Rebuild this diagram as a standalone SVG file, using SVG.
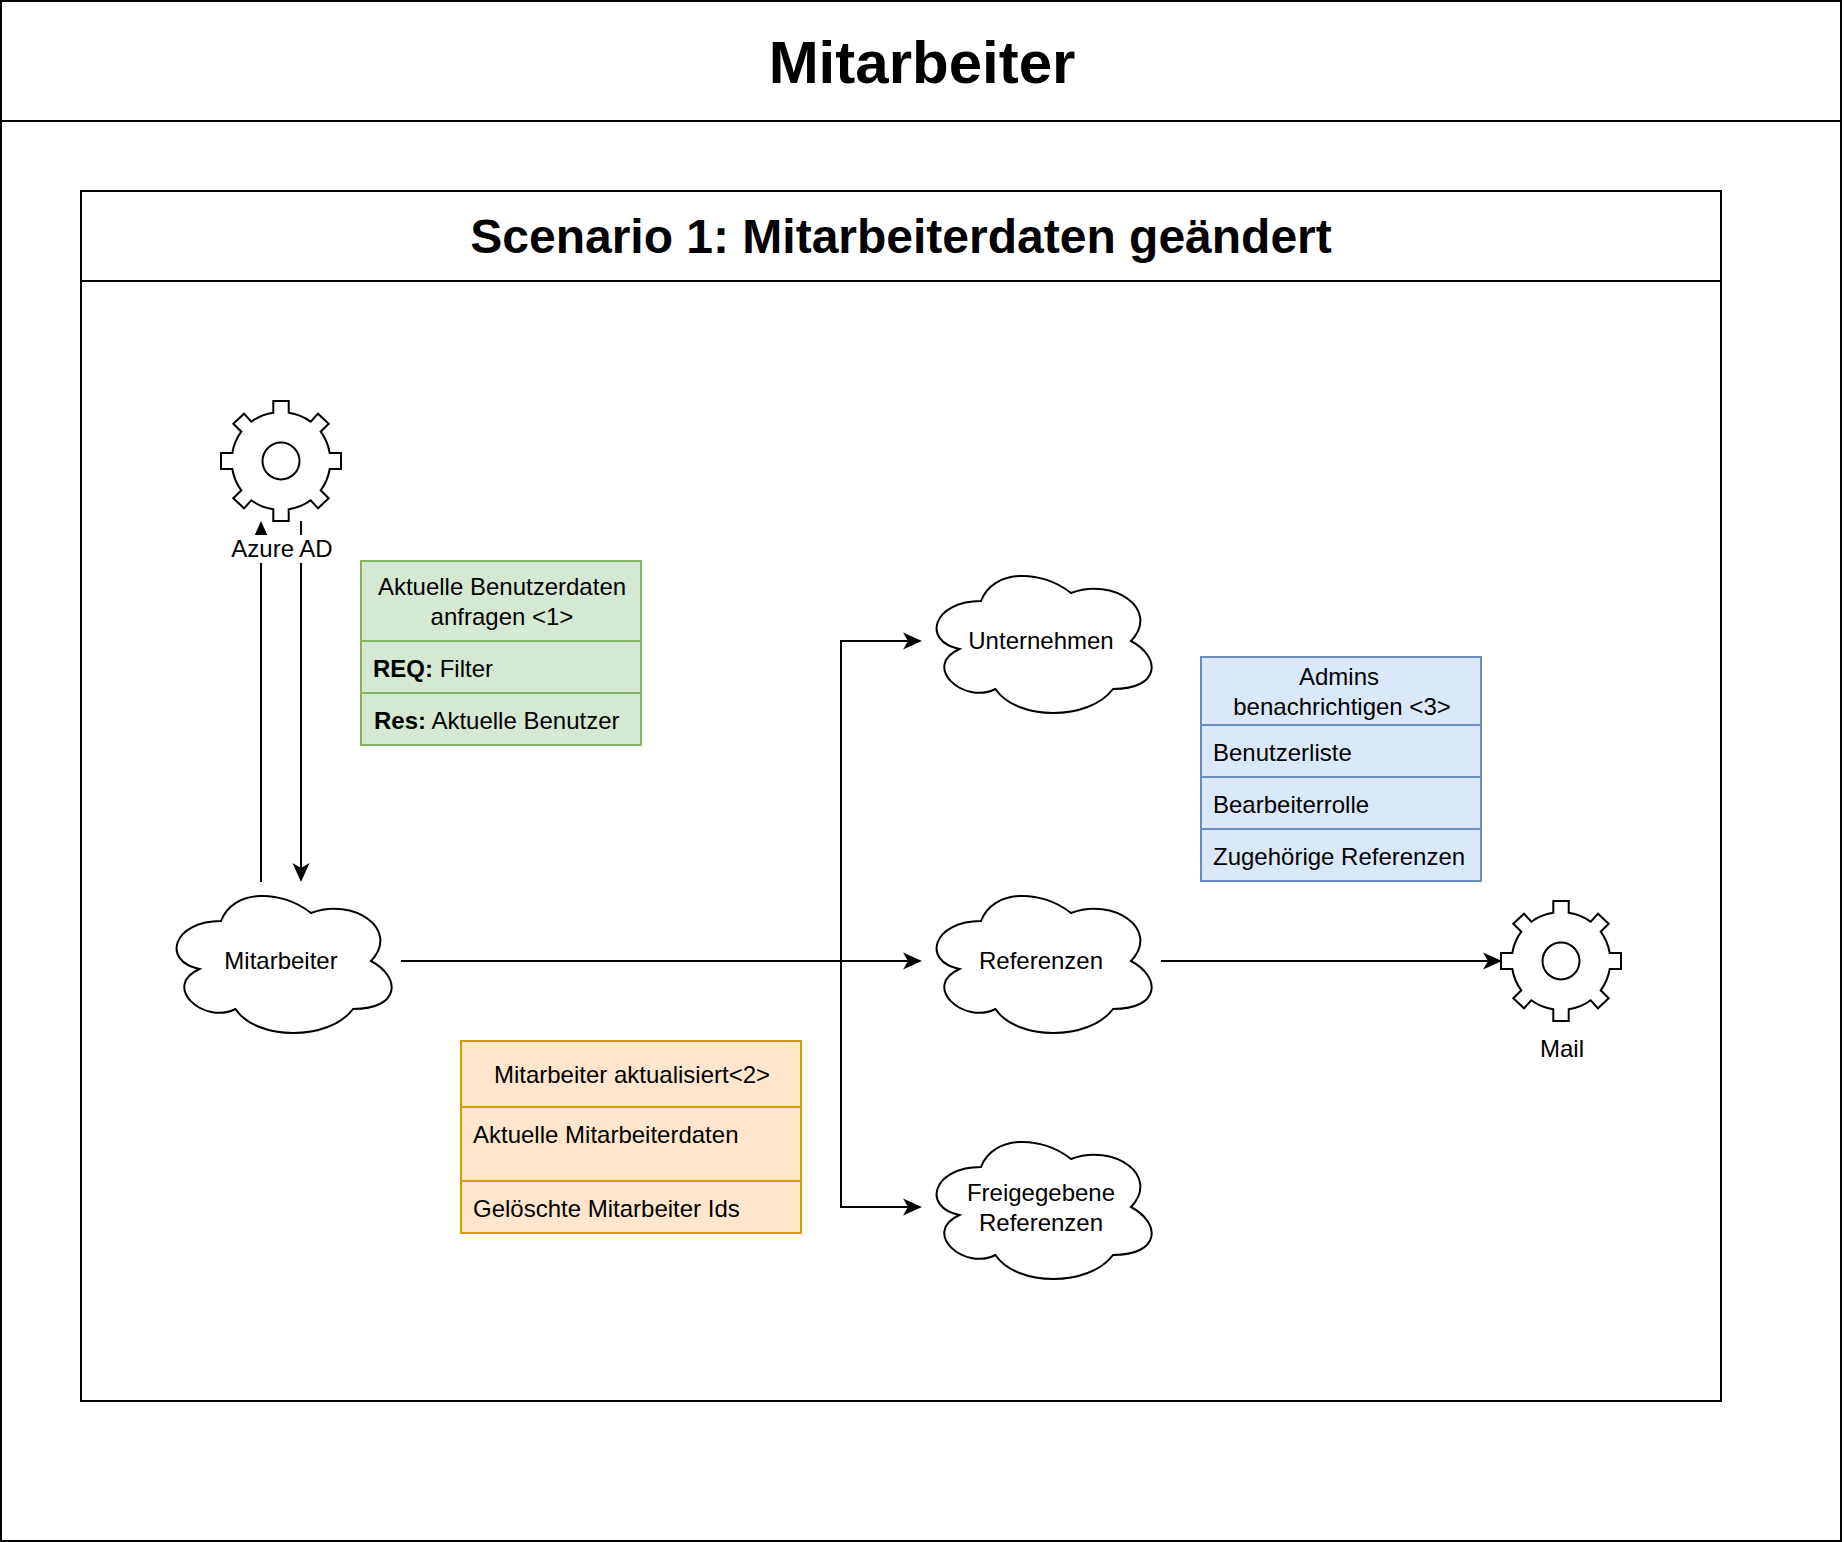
<svg xmlns="http://www.w3.org/2000/svg" width="1844" height="1542" viewBox="0 0 1844 1542">
<style>
text{font-family:"Liberation Sans",Arial,sans-serif;font-size:24px;fill:#000}
.c{text-anchor:middle}
.b{font-weight:700}
.s{fill:#fff;stroke:#000;stroke-width:2}
.l{fill:none;stroke:#000;stroke-width:2}
.conn{fill:none;stroke:#000;stroke-width:2;marker-end:url(#arrow)}
.g{stroke:#82b366;stroke-width:2;fill:#d5e8d4}
.o{stroke:#d79b00;stroke-width:2;fill:#ffe6cc}
.u{stroke:#6c8ebf;stroke-width:2;fill:#dae8fc}
</style>
<defs>
<marker id="arrow" markerUnits="userSpaceOnUse" viewBox="0 0 20 18" markerWidth="20" markerHeight="18" refX="9" refY="9" orient="auto"><path d="M0,0.5L19,9L0,17.500L5,9Z" fill="#000" stroke="none"/></marker>
<path id="cloud" d="M60,40C12,40,0,80,38.4,88C0,105.600,43.200,144,74.400,128C96,160,168,160,192,128C240,128,240,96,210,80C240,48,192,16,150,32C120,8,72,8,60,40Z"/>
<g id="gear"><path d="M-7.700,-60H7.700V-48.300A49,49,0,0,1,29.700,-39.300L37,-47.300L47.700,-37.300L39.700,-29.300A49,49,0,0,1,48.700,-8H60V8H48.700A49,49,0,0,1,39.700,29.300L47.700,37.300L37,47.300L29.700,39.300A49,49,0,0,1,7.700,48.300V60H-7.700V48.300A49,49,0,0,1,-29.700,39.300L-37,47.300L-47.700,37.300L-39.700,29.300A49,49,0,0,1,-48.700,8H-60V-8H-48.700A49,49,0,0,1,-39.700,-29.300L-47.700,-37.300L-37,-47.300L-29.700,-39.300A49,49,0,0,1,-7.700,-48.300Z"/><circle r="18.500"/></g>
</defs>
<rect width="1844" height="1542" fill="#fff"/>
<g id="frame-outer">
<rect class="s" x="1" y="1" width="1840" height="1540"/>
<line class="l" x1="1" y1="121" x2="1841" y2="121"/>
<text class="c b" x="922" y="83" style="font-size:60px">Mitarbeiter</text>
</g>
<g id="frame-scenario">
<rect class="s" x="81" y="191" width="1640" height="1210"/>
<line class="l" x1="81" y1="281" x2="1721" y2="281"/>
<text class="c b" x="901" y="253" style="font-size:48px">Scenario 1: Mitarbeiterdaten geändert</text>
</g>
<g id="connectors">
<path class="conn" d="M261,882V531"/>
<path class="conn" d="M301,521V872"/>
<path class="conn" d="M401,961H912"/>
<path class="conn" d="M841,961V641H912"/>
<path class="conn" d="M841,961V1207H912"/>
<path class="conn" d="M1161,961H1492"/>
</g>
<g id="azure-ad">
<use href="#gear" x="281" y="461" class="s"/>
<rect x="231" y="535" width="101" height="28" fill="#fff"/>
<text class="c" x="282" y="557">Azure AD</text>
</g>
<g id="mail">
<use href="#gear" x="1561" y="961" class="s"/>
<text class="c" x="1562" y="1057">Mail</text>
</g>
<g id="cloud-mitarbeiter">
<use href="#cloud" x="161" y="881" class="s"/>
<text class="c" x="281" y="969">Mitarbeiter</text>
</g>
<g id="cloud-unternehmen">
<use href="#cloud" x="921" y="561" class="s"/>
<text class="c" x="1041" y="649">Unternehmen</text>
</g>
<g id="cloud-referenzen">
<use href="#cloud" x="921" y="881" class="s"/>
<text class="c" x="1041" y="969">Referenzen</text>
</g>
<g id="cloud-freigegebene">
<use href="#cloud" x="921" y="1127" class="s"/>
<text class="c" x="1041" y="1201">Freigegebene</text>
<text class="c" x="1041" y="1231">Referenzen</text>
</g>
<g id="box-benutzerdaten">
<rect class="g" x="361" y="561" width="280" height="184"/>
<path class="g" d="M361,641H641M361,693H641"/>
<text class="c" x="502" y="595">Aktuelle Benutzerdaten</text>
<text class="c" x="502" y="625">anfragen &lt;1&gt;</text>
<text x="373" y="677"><tspan class="b">REQ:</tspan> Filter</text>
<text x="374" y="729"><tspan class="b">Res:</tspan> Aktuelle Benutzer</text>
</g>
<g id="box-aktualisiert">
<rect class="o" x="461" y="1041" width="340" height="192"/>
<path class="o" d="M461,1107H801M461,1181H801"/>
<text class="c" x="632" y="1083">Mitarbeiter aktualisiert&lt;2&gt;</text>
<text x="473" y="1143">Aktuelle Mitarbeiterdaten</text>
<text x="473" y="1217">Gelöschte Mitarbeiter Ids</text>
</g>
<g id="box-admins">
<rect class="u" x="1201" y="657" width="280" height="224"/>
<path class="u" d="M1201,725H1481M1201,777H1481M1201,829H1481"/>
<text class="c" x="1339" y="685">Admins</text>
<text class="c" x="1342" y="715">benachrichtigen &lt;3&gt;</text>
<text x="1213" y="761">Benutzerliste</text>
<text x="1213" y="813">Bearbeiterrolle</text>
<text x="1213" y="865">Zugehörige Referenzen</text>
</g>
</svg>
